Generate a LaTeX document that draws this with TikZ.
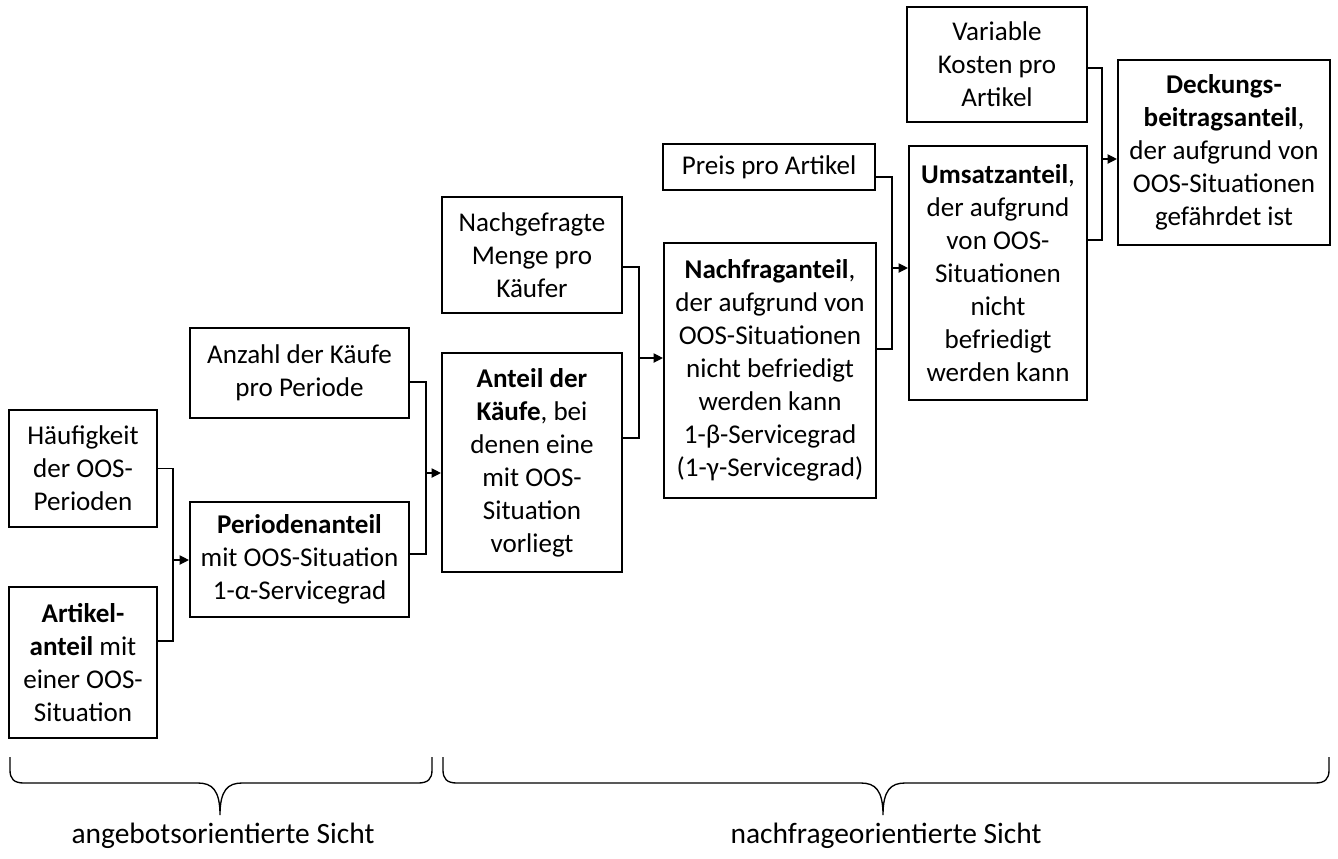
\documentclass[tikz,border=0pt]{standalone}
\usepackage{fontspec}
\setmainfont{Carlito}
\usetikzlibrary{arrows.meta}
\tikzset{
  thinbox/.style={draw, line width=0.9pt, inner sep=0pt, align=center, font=\fontsize{20.3}{24.75}\selectfont},
  thickbox/.style={draw, line width=1.6pt, inner sep=0pt, align=center, font=\fontsize{20.3}{24.75}\selectfont},
  conn/.style={line width=0.9pt},
  arr/.style={line width=0.9pt, -{Triangle[length=7pt,width=7pt]}},
  brace/.style={line width=1pt},
  lbl/.style={anchor=base, font=\fontsize{22.1}{26}\selectfont, inner sep=0pt}
}
\newcommand\mybox[7]{\node[#1, minimum width={(#5-#3)*0.75pt}, minimum height={(#6-#4)*0.75pt}] (#2) at ({(#3+#5)/2},{(#4+#6)/2}) {#7};}
\begin{document}
\begin{tikzpicture}[x=0.75pt,y=-0.75pt]
\useasboundingbox (0,0) rectangle (1338,858);
% boxes
\mybox{thinbox}{hauf}{9}{410}{157}{527}{Häufigkeit\\der OOS-\\Perioden}
\mybox{thickbox}{art}{9}{587}{157}{738}{\textbf{Artikel-}\\\textbf{anteil} mit\\einer OOS-\\Situation}
\mybox{thinbox}{anz}{190}{328}{409}{418}{Anzahl der Käufe\\pro Periode}
\mybox{thickbox}{per}{190}{502}{409}{617}{\textbf{Periodenanteil}\\mit OOS-Situation\\1-α-Servicegrad}
\mybox{thinbox}{nach}{442}{197}{622}{313}{Nachgefragte\\Menge pro\\Käufer}
\mybox{thickbox}{ant}{442}{353}{622}{572}{\textbf{Anteil der}\\\textbf{Käufe}, bei\\denen eine\\mit OOS-\\Situation\\vorliegt}
\mybox{thinbox}{preis}{663}{144}{875}{190}{Preis pro Artikel}
\mybox{thickbox}{nfa}{664}{243}{876}{498}{\textbf{Nachfraganteil},\\der aufgrund von\\OOS-Situationen\\nicht befriedigt\\werden kann\\1-β-Servicegrad\\(1-γ-Servicegrad)}
\mybox{thinbox}{var}{907}{7}{1087}{122}{Variable\\Kosten pro\\Artikel}
\mybox{thickbox}{ums}{909}{146}{1087}{400}{\textbf{Umsatzanteil},\\der aufgrund\\von OOS-\\Situationen\\nicht\\befriedigt\\werden kann}
\mybox{thickbox}{deck}{1118}{60}{1330}{245}{\textbf{Deckungs-}\\\textbf{beitragsanteil},\\der aufgrund von\\OOS-Situationen\\gefährdet ist}
% junctions
\coordinate (k1) at (173,560);
\coordinate (k2) at (426,473);
\coordinate (k3) at (639,358);
\coordinate (k4) at (892,268);
\coordinate (k5) at (1102,159);
% connectors
\draw[conn] (hauf.east) -| (k1) |- (art.east |- 0,641);
\draw[arr] (k1) -- (per.west |- k1);
\draw[conn] (anz.east |- 0,382) -| (k2) |- (per.east |- 0,554);
\draw[arr] (k2) -- (ant.west |- k2);
\draw[conn] (nach.east |- 0,267) -| (k3) |- (ant.east |- 0,438);
\draw[arr] (k3) -- (nfa.west |- k3);
\draw[conn] (preis.east |- 0,177) -| (k4) |- (nfa.east |- 0,349);
\draw[arr] (k4) -- (ums.west |- k4);
\draw[conn] (var.east |- 0,68) -| (k5) |- (ums.east |- 0,240);
\draw[arr] (k5) -- (deck.west |- k5);
% braces
\draw[brace] (10,757) -- (10,770) .. controls (10,779) and (14,783) .. (24,783) -- (198,783)
  .. controls (212,783) and (220,790) .. (220,815)
  .. controls (220,790) and (228,783) .. (242,783) -- (418,783)
  .. controls (428,783) and (432,779) .. (432,770) -- (432,757);
\draw[brace] (443,757) -- (443,770) .. controls (443,779) and (447,783) .. (457,783) -- (861,783)
  .. controls (875,783) and (883,790) .. (883,815)
  .. controls (883,790) and (891,783) .. (905,783) -- (1315,783)
  .. controls (1325,783) and (1329,779) .. (1329,770) -- (1329,757);
% labels
\node[lbl] (l1) at (223,843) {angebotsorientierte Sicht};
\node[lbl] (l2) at (886,843) {nachfrageorientierte Sicht};
\end{tikzpicture}
\end{document}
